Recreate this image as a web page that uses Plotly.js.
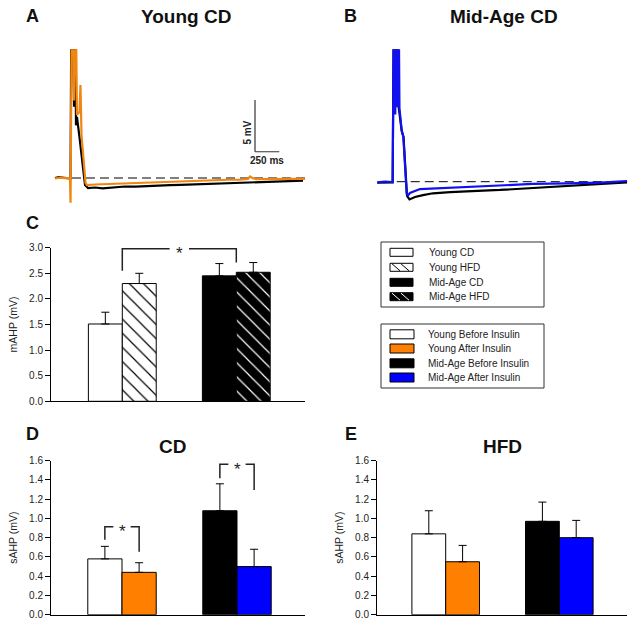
<!DOCTYPE html>
<html><head><meta charset="utf-8">
<script src="https://cdn.plot.ly/plotly-3.0.1.min.js"></script>
<style>html,body{margin:0;padding:0;background:#fff}#chart{width:635px;height:625px}</style>
</head><body><div id="chart"></div>
<script>
// ================= DATA =================
const groups = ['Young', 'Mid-Age'];

// Panel C: mAHP (mV), mean and SEM
const mahpCD = [1.51, 2.45];
const mahpCDErr = [0.23, 0.24];
const mahpHFD = [2.30, 2.52];
const mahpHFDErr = [0.20, 0.19];

// Panel D: sAHP (mV), CD
const sahpCDBefore = [0.58, 1.08];
const sahpCDBeforeErr = [0.13, 0.28];
const sahpCDAfter = [0.44, 0.50];
const sahpCDAfterErr = [0.10, 0.18];

// Panel E: sAHP (mV), HFD
const sahpHFDBefore = [0.84, 0.97];
const sahpHFDBeforeErr = [0.24, 0.20];
const sahpHFDAfter = [0.55, 0.80];
const sahpHFDAfterErr = [0.17, 0.18];

// Panel A: Young CD traces (time ms, voltage mV relative to rest)
const youngBeforeT = [0, 40, 72, 110, 160, 170, 180, 196, 206, 216, 226, 250, 309, 340, 412, 490, 566, 640, 720, 830, 944, 1060, 1183, 1290, 1389, 1510, 1626, 1760, 1904, 2020, 2130, 2220, 2315, 2430, 2552];
const youngBeforeV = [0, 0.08, 0.05, -0.02, -0.05, 20, 20, 6.9, 20, 5.1, 5.9, 4.1, -0.68, -0.97, -0.92, -1.0, -0.95, -0.88, -0.82, -0.84, -0.77, -0.72, -0.68, -0.66, -0.63, -0.58, -0.51, -0.49, -0.44, -0.45, -0.42, -0.38, -0.36, -0.30, -0.26];
const youngAfterT = [0, 50, 100, 154, 160, 175, 185, 196, 211, 226, 252, 262, 273, 314, 329, 412, 490, 566, 700, 830, 944, 1100, 1286, 1450, 1626, 1780, 1904, 1985, 2007, 2030, 2068, 2200, 2315, 2450, 2573];
const youngAfterV = [-0.05, 0.03, -0.02, 0, -2.4, 20, 20, 7.5, 20, 6.1, 6.4, 9.0, 4.1, -0.48, -0.68, -0.63, -0.6, -0.58, -0.52, -0.49, -0.45, -0.4, -0.34, -0.26, -0.19, -0.17, -0.15, -0.1, 0.15, 0.0, -0.1, -0.08, -0.1, -0.06, -0.08];

// Panel B: Mid-Age CD traces
const midBeforeT = [0, 80, 158, 172, 187, 203, 220, 251, 270, 306, 331, 388, 470, 573, 750, 923, 1090, 1263, 1430, 1602, 1780, 1952, 2120, 2292, 2430, 2570];
const midBeforeV = [-0.08, -0.04, -0.06, 20, 8, 20, 7.2, 4.9, 4.3, -1.38, -1.72, -1.48, -1.3, -1.12, -1.0, -0.9, -0.86, -0.8, -0.7, -0.61, -0.5, -0.39, -0.3, -0.22, -0.15, -0.06];
const midAfterT = [0, 79, 158, 172, 185, 195, 208, 218, 228, 251, 268, 302, 316, 336, 439, 645, 923, 1263, 1602, 1952, 2292, 2570];
const midAfterV = [-0.06, 0.02, -0.03, 20, 6.5, 20, 7.2, 20, 7.1, 5.0, 4.35, -1.12, -1.33, -1.09, -0.71, -0.61, -0.48, -0.37, -0.22, -0.17, -0.08, 0.07];

// Legends
const dietLegend = ['Young CD', 'Young HFD', 'Mid-Age CD', 'Mid-Age HFD'];
const insulinLegend = ['Young Before Insulin', 'Young After Insulin', 'Mid-Age Before Insulin', 'Mid-Age After Insulin'];

// Significance brackets: [x left, x right, y left leg, y top, y right leg]
const sigC = [[0, 1, 2.55, 2.98, 2.71]];
const sigD = [[-0.149, 0.149, 0.78, 0.914, 0.655], [0.851, 1.149, 1.417, 1.563, 1.296]];

// ================= STYLE / LAYOUT =================
const W = 635, H = 625;
const FONT = 'Arial, "Liberation Sans", sans-serif';
const ORANGE = '#ff8000', BLUE = '#0000ff';
const px = v => v / W;
const py = v => 1 - v / H;
const xdom = (a, b) => [a / W, b / W];
const ydom = (t, b) => [1 - b / H, 1 - t / H];

const msPerPx = 10.29, pxPerMv = 10.34;
function traceRange(box, origin) {
  return {
    x: [(box[0] - origin[0]) * msPerPx, (box[1] - origin[0]) * msPerPx],
    y: [(origin[1] - box[3]) / pxPerMv, (origin[1] - box[2]) / pxPerMv]
  };
}
const boxA = [50, 310, 49.3, 210], originA = [55, 178];
const boxB = [372, 632, 49.3, 210], originB = [377.3, 181.7];
const rA = traceRange(boxA, originA), rB = traceRange(boxB, originB);

function catRange(left, right, c0, c1) {
  const s = c1 - c0;
  return [-(c0 - left) / s, 1 + (right - c1) / s];
}

const data = [];
function line(x, y, color, xa, ya) {
  data.push({x, y, type: 'scatter', mode: 'lines', line: {color, width: 2.2}, xaxis: xa, yaxis: ya, hoverinfo: 'skip', showlegend: false});
}
line(youngBeforeT, youngBeforeV, '#000', 'x', 'y');
line(youngAfterT, youngAfterV, '#f0860f', 'x', 'y');
line(midBeforeT, midBeforeV, '#000', 'x2', 'y2');
line(midAfterT, midAfterV, '#1010f0', 'x2', 'y2');

function bars(xs, y, err, colors, xa, ya, og, pattern) {
  const t = {
    x: xs, y, type: 'bar', xaxis: xa, yaxis: ya, showlegend: false, hoverinfo: 'skip', offsetgroup: og,
    marker: {color: colors, line: {color: '#000', width: 1}},
    error_y: {type: 'data', symmetric: false, array: err, arrayminus: err.map(() => 0), color: '#000', thickness: 1, width: 4}
  };
  if (pattern) t.marker.pattern = pattern;
  data.push(t);
}
bars(groups, mahpCD, mahpCDErr, ['#fff', '#000'], 'x3', 'y3', 'a');
const hatchFg = ['#000', '#fff'], hatchBg = ['#fff', '#000'];
groups.forEach((g, i) => {
  bars([g], [mahpHFD[i]], [mahpHFDErr[i]], hatchBg[i], 'x3', 'y3', 'b',
    {shape: '\\', fgcolor: hatchFg[i], bgcolor: hatchBg[i], size: 10, solidity: 0.12, fillmode: 'replace'});
});
bars(groups, sahpCDBefore, sahpCDBeforeErr, ['#fff', '#000'], 'x4', 'y4', 'a');
bars(groups, sahpCDAfter, sahpCDAfterErr, [ORANGE, BLUE], 'x4', 'y4', 'b');
bars(groups, sahpHFDBefore, sahpHFDBeforeErr, ['#fff', '#000'], 'x5', 'y5', 'a');
bars(groups, sahpHFDAfter, sahpHFDAfterErr, [ORANGE, BLUE], 'x5', 'y5', 'b');

function hiddenAx(dom, range, anchor) {
  return {domain: dom, range, visible: false, showgrid: false, zeroline: false, anchor, fixedrange: true};
}
function barX(dom, range, anchor) {
  return {domain: dom, range, type: 'category', categoryarray: groups, categoryorder: 'array', anchor, showticklabels: false, ticks: '', showline: true,
    linecolor: '#000', linewidth: 1, showgrid: false, zeroline: false, fixedrange: true};
}
function barY(dom, range, dtick, title, anchor) {
  return {domain: dom, range, dtick, tick0: 0, tickformat: '.1f', ticks: 'outside', ticklen: 5, tickwidth: 1,
    tickcolor: '#000', showline: true, linecolor: '#000', linewidth: 1, showgrid: false, zeroline: false,
    tickfont: {size: 10, color: '#222', family: FONT}, anchor, fixedrange: true,
    title: {text: title, font: {size: 10.5, color: '#222', family: FONT}, standoff: 9}};
}

const layout = {
  width: W, height: H, margin: {l: 0, r: 0, t: 0, b: 0}, paper_bgcolor: '#fff', plot_bgcolor: 'rgba(0,0,0,0)',
  font: {family: FONT, color: '#000'}, showlegend: false, barmode: 'group', bargap: 0.405, bargroupgap: 0,
  xaxis: hiddenAx(xdom(boxA[0], boxA[1]), rA.x, 'y'),
  yaxis: hiddenAx(ydom(boxA[2], boxA[3]), rA.y, 'x'),
  xaxis2: hiddenAx(xdom(boxB[0], boxB[1]), rB.x, 'y2'),
  yaxis2: hiddenAx(ydom(boxB[2], boxB[3]), rB.y, 'x2'),
  xaxis3: barX(xdom(51, 305), catRange(51, 305, 122.3, 236.3), 'y3'),
  yaxis3: barY(ydom(247.7, 401.3), [0, 3], 0.5, 'mAHP (mV)', 'x3'),
  xaxis4: barX(xdom(51, 305), catRange(51, 305, 122, 237), 'y4'),
  yaxis4: barY(ydom(460.7, 614.7), [0, 1.6], 0.2, 'sAHP (mV)', 'x4'),
  xaxis5: barX(xdom(377, 627), catRange(377, 627, 445.7, 559.3), 'y5'),
  yaxis5: barY(ydom(460.7, 614.7), [0, 1.6], 0.2, 'sAHP (mV)', 'x5'),
  shapes: [], annotations: []
};
const S = layout.shapes, A = layout.annotations;

// baselines (dashed) in trace panels
S.push({type: 'line', xref: 'x', yref: 'y', x0: 175, x1: 2573, y0: 0, y1: 0, line: {color: '#000', width: 1, dash: '9px,5px'}, layer: 'below'});
S.push({type: 'line', xref: 'x2', yref: 'y2', x0: 200, x1: 2549, y0: 0, y1: 0, line: {color: '#000', width: 1, dash: '9px,5px'}, layer: 'below'});
// scale bar (5 mV / 250 ms)
const sbT = 2058, sbV = 2.54;
S.push({type: 'line', xref: 'x', yref: 'y', x0: sbT, x1: sbT, y0: sbV, y1: sbV + 5, line: {color: '#333', width: 1.2}});
S.push({type: 'line', xref: 'x', yref: 'y', x0: sbT, x1: sbT + 250, y0: sbV, y1: sbV, line: {color: '#333', width: 1.2}});
A.push({xref: 'paper', yref: 'paper', x: px(246.5), y: py(133), text: '<b>5 mV</b>', textangle: -90, showarrow: false, font: {size: 10, color: '#222'}, xanchor: 'center', yanchor: 'middle'});
A.push({xref: 'paper', yref: 'paper', x: px(266.7), y: py(160.5), text: '<b>250 ms</b>', showarrow: false, font: {size: 10, color: '#222'}, xanchor: 'center', yanchor: 'middle'});

// significance brackets
function bracket(b, xa, ya, gap) {
  const [x0, x1, yl, yt, yr] = b, mid = (x0 + x1) / 2;
  const ln = {color: '#222', width: 1.5};
  S.push({type: 'path', xref: xa, yref: ya, path: `M${x0},${yl} L${x0},${yt} L${mid - gap},${yt}`, line: ln});
  S.push({type: 'path', xref: xa, yref: ya, path: `M${mid + gap},${yt} L${x1},${yt} L${x1},${yr}`, line: ln});
  A.push({xref: xa, yref: ya, x: mid, y: yt, text: '*', showarrow: false, font: {size: 17, color: '#222'}, xanchor: 'center', yanchor: 'middle', yshift: -5});
}
sigC.forEach(b => bracket(b, 'x3', 'y3', 0.085));
sigD.forEach(b => bracket(b, 'x4', 'y4', 0.075));

// panel letters and titles
const lab = (x, y, t, s) => A.push({xref: 'paper', yref: 'paper', x: px(x), y: py(y), text: '<b>' + t + '</b>', showarrow: false, font: {size: s, color: '#111'}, xanchor: 'center', yanchor: 'middle'});
lab(32.5, 15.5, 'A', 18); lab(351, 15.5, 'B', 18); lab(32.5, 223.5, 'C', 18); lab(32.5, 433.5, 'D', 18); lab(351, 433.5, 'E', 18);
lab(186, 16.5, 'Young CD', 19); lab(503.5, 16.5, 'Mid-Age CD', 19); lab(172.5, 446.5, 'CD', 19); lab(503, 446.5, 'HFD', 19);

// legends
function legendBox(x0, x1, y0, y1) {
  S.push({type: 'rect', xref: 'paper', yref: 'paper', x0: px(x0), x1: px(x1), y0: py(y1), y1: py(y0), line: {color: '#333', width: 1}, fillcolor: '#fff', layer: 'below'});
}
function swatch(x0, x1, yc, h, fill, hatch) {
  S.push({type: 'rect', xref: 'paper', yref: 'paper', x0: px(x0), x1: px(x1), y0: py(yc + h / 2), y1: py(yc - h / 2), line: {color: '#000', width: 1}, fillcolor: fill});
  if (hatch) {
    [2, 11].forEach(o => S.push({type: 'line', xref: 'paper', yref: 'paper', x0: px(x0 + o), y0: py(yc - h / 2 + 0.5), x1: px(x0 + o + h), y1: py(yc + h / 2 - 0.5), line: {color: hatch, width: 1}}));
  }
}
legendBox(381, 544, 242, 307);
const dietFill = ['#fff', '#fff', '#000', '#000'], dietHatch = [null, '#000', null, '#fff'];
const rows1 = [252.3, 267.3, 282.3, 296.7];
dietLegend.forEach((n, i) => {
  swatch(390, 413, rows1[i], 8, dietFill[i], dietHatch[i]);
  A.push({xref: 'paper', yref: 'paper', x: px(427), y: py(rows1[i]), text: n, showarrow: false, font: {size: 10, color: '#222'}, xanchor: 'left', yanchor: 'middle'});
});
legendBox(381, 544, 324, 388);
const insFill = ['#fff', ORANGE, '#000', BLUE];
const rows2 = [334.3, 348.5, 363.3, 377.5];
insulinLegend.forEach((n, i) => {
  swatch(390, 414, rows2[i], 9, insFill[i], null);
  A.push({xref: 'paper', yref: 'paper', x: px(425.5), y: py(rows2[i]), text: n, showarrow: false, font: {size: 10, color: '#222'}, xanchor: 'left', yanchor: 'middle'});
});

Plotly.newPlot('chart', data, layout, {displayModeBar: false, staticPlot: true});
</script>
</body></html>
